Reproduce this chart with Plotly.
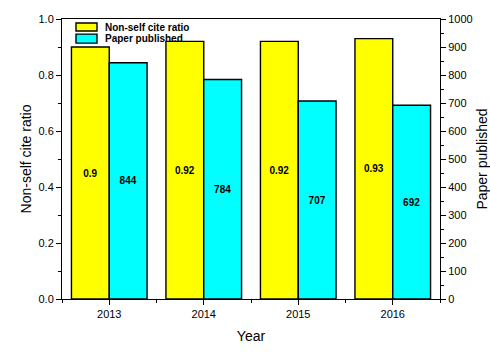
import plotly.graph_objects as go

years = [2013, 2014, 2015, 2016]
ratio = [0.9, 0.92, 0.92, 0.93]
papers = [844, 784, 707, 692]
ratio_labels = ["0.9", "0.92", "0.92", "0.93"]
paper_labels = ["844", "784", "707", "692"]
series_names = ["Non-self cite ratio", "Paper published"]
series_colors = ["#FFFF00", "#00FFFF"]

fig = go.Figure()
fig.add_trace(go.Bar(
    x=years, y=ratio, name=series_names[0], text=ratio_labels,
    textposition="inside", insidetextanchor="middle", textangle=0,
    textfont=dict(family="Arial", size=10, color="black", weight="bold"),
    marker=dict(color=series_colors[0], line=dict(color="black", width=1.4)),
    width=0.4, offset=-0.4, yaxis="y",
))
fig.add_trace(go.Bar(
    x=years, y=papers, name=series_names[1], text=paper_labels,
    textposition="inside", insidetextanchor="middle", textangle=0,
    textfont=dict(family="Arial", size=10, color="black", weight="bold"),
    marker=dict(color=series_colors[1], line=dict(color="black", width=1.4)),
    width=0.4, offset=0.0, yaxis="y2",
))

# manual legend (Origin-style wide swatches)
legend_rows = [(0.9857, 0.957, 0.971), (0.946, 0.914, 0.929)]
for (ytop, ybot, ytxt), name, col in zip(legend_rows, series_names, series_colors):
    fig.add_shape(type="rect", xref="paper", yref="paper",
                  x0=0.037, x1=0.0926, y0=ybot, y1=ytop,
                  fillcolor=col, line=dict(color="black", width=1.4))
    fig.add_annotation(xref="paper", yref="paper", x=0.1085, y=ytxt,
                       xanchor="left", yanchor="middle", text=name, showarrow=False,
                       font=dict(family="Arial", size=10, color="black", weight="bold"))

axis_font = dict(family="Arial", size=11, color="black")
title_font = dict(family="Arial", size=14, color="black")
fig.update_layout(
    width=490, height=354,
    margin=dict(l=62, r=50, t=19, b=55),
    plot_bgcolor="white", paper_bgcolor="white",
    font=dict(family="Arial", color="black"),
    showlegend=False,
    xaxis=dict(
        range=[2012.5, 2016.5], tickvals=years, ticktext=[str(y) for y in years],
        ticks="outside", ticklen=5, tickwidth=1, tickcolor="black",
        minor=dict(ticks="outside", ticklen=3, tick0=2012.5, dtick=1, tickcolor="black"),
        showline=True, linecolor="black", linewidth=1, mirror=True,
        showgrid=False, zeroline=False, tickfont=axis_font, automargin=False,
        title=dict(text="Year", font=title_font, standoff=11),
    ),
    yaxis=dict(
        range=[0, 1.0], tickvals=[0, 0.2, 0.4, 0.6, 0.8, 1.0],
        ticktext=["0.0", "0.2", "0.4", "0.6", "0.8", "1.0"],
        ticks="outside", ticklen=5, tickwidth=1, tickcolor="black",
        minor=dict(ticks="outside", ticklen=3, dtick=0.1, tickcolor="black"),
        showline=True, linecolor="black", linewidth=1,
        showgrid=False, zeroline=False, tickfont=axis_font, automargin=False,
        title=dict(text="Non-self cite ratio", font=title_font, standoff=3),
    ),
    yaxis2=dict(
        overlaying="y", side="right", range=[0, 1000], dtick=100,
        ticks="outside", ticklen=5, tickwidth=1, tickcolor="black",
        minor=dict(ticks="outside", ticklen=3, dtick=50, tickcolor="black"),
        showline=True, linecolor="black", linewidth=1,
        showgrid=False, zeroline=False, tickfont=axis_font, automargin=False,
        title=dict(text="Paper published", font=title_font, standoff=8),
    ),
)

fig.write_html("out.html")
